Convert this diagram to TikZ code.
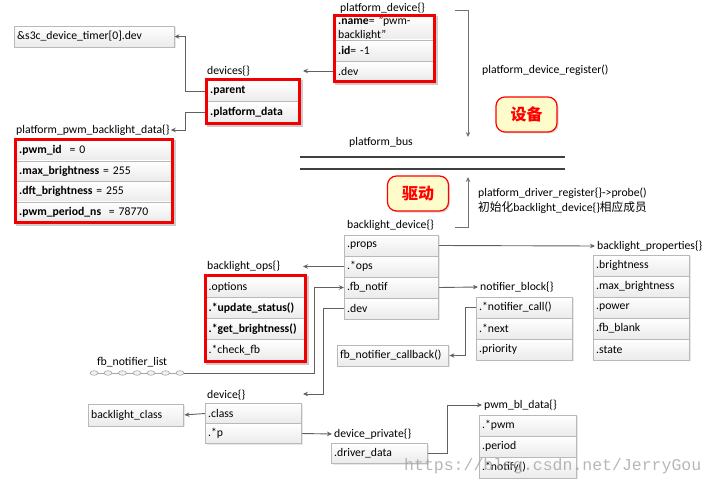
\documentclass[tikz,border=0pt]{standalone}
\usepackage{fontspec}
\setmainfont{Carlito}
\setmonofont{Liberation Mono}
\newfontfamily\cjk{Noto Sans CJK SC}
\usetikzlibrary{arrows.meta,shadows,fit,backgrounds,calc}
\begin{document}
\begin{tikzpicture}[x=1pt,y=-1pt,
  font=\fontsize{11.7}{14}\selectfont,
  row/.style={draw=gray!55, top color=white, bottom color=gray!16, minimum height=21pt,
    inner xsep=3pt, inner ysep=0pt, anchor=west, align=left,
    drop shadow={opacity=0.18, shadow xshift=1.3pt, shadow yshift=-1.3pt}},
  lbl/.style={anchor=west, inner sep=1pt},
  redframe/.style={draw=red!95!black, line width=3pt, inner sep=0.5pt},
  conn/.style={draw=black!62, line width=0.9pt, -{Stealth[length=5pt,width=4.5pt]}},
  plain/.style={draw=black!62, line width=0.9pt},
  tag/.style={rounded corners=9pt, draw=red, line width=1.2pt, fill=yellow!20,
    minimum width=61pt, minimum height=35pt, text=red,
    font=\cjk\bfseries\fontsize{16}{16}\selectfont,
    drop shadow={opacity=0.3, shadow xshift=1.5pt, shadow yshift=-1.5pt}},
  bus/.style={draw=black!75, line width=1.6pt}
]
\useasboundingbox (0,0) rectangle (716,487);

% ---------- s3c
\node[row, text width=154pt] (s3c) at (14,36.5) {\&s3c\_device\_timer[0].dev};

% ---------- devices{}
\node[lbl] (devlbl) at (206,71) {devices\{\}};
\node[row, text width=86pt] (dvparent) at (207,91) {\textbf{.parent}};
\node[row, text width=86pt] (dvpdata) at (207,112) {\textbf{.platform\_data}};
\node[redframe, fit=(dvparent)(dvpdata)] (devbox) {};

% ---------- platform_pwm_backlight_data{}
\node[lbl] (ppblbl) at (15,130) {platform\_pwm\_backlight\_data\{\}};
\node[row, text width=150pt, minimum height=20.5pt] (pp1) at (16,150.5) {\textbf{.pwm\_id}\ \ = 0};
\node[row, text width=150pt, minimum height=20.5pt] (pp2) at (16,171) {\textbf{.max\_brightness} = 255};
\node[row, text width=150pt, minimum height=20.5pt] (pp3) at (16,191.5) {\textbf{.dft\_brightness} = 255};
\node[row, text width=150pt, minimum height=20.5pt] (pp4) at (16,212) {\textbf{.pwm\_period\_ns}\ \ = 78770};
\node[redframe, fit=(pp1)(pp4)] (ppbox) {};

% ---------- platform_device{}
\node[lbl] (pdlbl) at (339,8) {platform\_device\{\}};
\node[row, text width=93pt, minimum height=24pt] (pdname) at (335,28) {\textbf{.name}= "pwm-\\backlight"};
\node[row, text width=93pt] (pdid) at (335,50.5) {\textbf{.id}= -1};
\node[row, text width=93pt, minimum height=19pt] (pddev) at (335,71) {.dev};
\node[redframe, fit=(pdname)(pddev)] (pdbox) {};

% ---------- register brackets and bus
\coordinate (regtop) at (455,10);
\coordinate (regbot) at (468,137);
\coordinate (drvbot) at (455,227);
\coordinate (drvtop) at (468,177);
\node[lbl] (reglbl) at (481,70) {platform\_device\_register()};
\node[tag] (tagdev) at (526.5,114.5) {设备};
\node[lbl] (buslbl) at (348,142) {platform\_bus};
\coordinate (busA1) at (300,157);
\coordinate (busA2) at (565,157);
\coordinate (busB1) at (300,169);
\coordinate (busB2) at (565,169);
\node[tag] (tagdrv) at (418,193.5) {驱动};
\node[lbl] (drvlbl1) at (477,193) {platform\_driver\_register\{\}->probe()};
\node[lbl] (drvlbl2) at (477,208) {{\cjk 初始化}backlight\_device\{\}{\cjk 相应成员}};

% ---------- backlight_device{}
\node[lbl] (bdlbl) at (346,225) {backlight\_device\{\}};
\node[row, text width=88pt] (bdprops) at (344,245.5) {.props};
\node[row, text width=88pt] (bdops) at (344,266.5) {.*ops};
\node[row, text width=88pt] (bdfb) at (344,287.5) {.fb\_notif};
\node[row, text width=88pt] (bddev) at (344,308.5) {.dev};

% ---------- backlight_ops{}
\node[lbl] (opslbl) at (206,266) {backlight\_ops\{\}};
\node[row, text width=93pt] (op1) at (205.5,287) {.options};
\node[row, text width=93pt] (op2) at (205.5,308) {\textbf{.*update\_status()}};
\node[row, text width=93pt] (op3) at (205.5,329) {\textbf{.*get\_brightness()}};
\node[row, text width=93pt] (op4) at (205.5,350) {.*check\_fb};
\node[redframe, fit=(op1)(op4)] (opsbox) {};

% ---------- backlight_properties{}
\node[lbl] (bplbl) at (596,246) {backlight\_properties\{\}};
\node[row, text width=90pt] (bp1) at (593,265.5) {.brightness};
\node[row, text width=90pt] (bp2) at (593,286.5) {.max\_brightness};
\node[row, text width=90pt] (bp3) at (593,307.5) {.power};
\node[row, text width=90pt] (bp4) at (593,328.5) {.fb\_blank};
\node[row, text width=90pt] (bp5) at (593,349.5) {.state};

% ---------- notifier_block{}
\node[lbl] (nblbl) at (479,287) {notifier\_block\{\}};
\node[row, text width=90pt] (nbcall) at (476,307.5) {.*notifier\_call()};
\node[row, text width=90pt] (nbnext) at (476,328.5) {.*next};
\node[row, text width=90pt] (nbprio) at (476,349.5) {.priority};
\node[row, text width=105pt] (fbcb) at (337,355.5) {fb\_notifier\_callback()};

% ---------- fb_notifier_list
\node[lbl] (fblbl) at (96,362) {fb\_notifier\_list};
\coordinate (chainstart) at (90,373);
\coordinate (chainend) at (183,373);
\draw[plain, draw=gray!70, line width=0.7pt] (chainstart) -- (chainend);
\foreach \cx in {94,108,122.5,137,151,165.5,180}
  \draw[draw=gray!70, fill=gray!12, line width=0.6pt] (\cx,373) ellipse [x radius=4pt, y radius=2.3pt];

% ---------- device{}
\node[lbl] (dvlbl) at (206,395) {device\{\}};
\node[row, text width=90pt, minimum height=20pt] (dvclass) at (205,413.5) {.class};
\node[row, text width=90pt, minimum height=20pt] (dvp) at (205,433.5) {.*p};
\node[row, text width=89pt, minimum height=22pt] (blclass) at (88,415) {backlight\_class};

% ---------- device_private{}
\node[lbl] (dplbl) at (333,434) {device\_private\{\}};
\node[row, text width=90pt, minimum height=20pt] (dpdd) at (331,453.5) {.driver\_data};

% ---------- pwm_bl_data{}
\node[lbl] (pwmlbl) at (483,405) {pwm\_bl\_data\{\}};
\node[row, text width=91pt] (pw1) at (479,425.5) {.*pwm};
\node[row, text width=91pt] (pw2) at (479,446.5) {.period};
\node[row, text width=91pt] (pw3) at (479,467.5) {.*notify()};

% ---------- free ends
\coordinate (devin) at (303,71);
\coordinate (opsin) at (303,266.5);
\coordinate (devicein) at (303,394);

% ---------- connectors
\begin{scope}[on background layer]
\fill[black, opacity=0.2] ([shift={(2pt,-2pt)}]devbox.south west) rectangle ([shift={(2pt,-2pt)}]devbox.north east);
\fill[black, opacity=0.2] ([shift={(2pt,-2pt)}]ppbox.south west) rectangle ([shift={(2pt,-2pt)}]ppbox.north east);
\fill[black, opacity=0.2] ([shift={(2pt,-2pt)}]pdbox.south west) rectangle ([shift={(2pt,-2pt)}]pdbox.north east);
\fill[black, opacity=0.2] ([shift={(2pt,-2pt)}]opsbox.south west) rectangle ([shift={(2pt,-2pt)}]opsbox.north east);
\draw[conn] (dvparent.west) -- ++(-22,0) |- (s3c.east);
\draw[conn] (dvpdata.west) -- ++(-22,0) |- (ppblbl.east);
\draw[conn] (pddev.west) -- (devin);
\draw[conn] (bdops.west) -- (opsin);
\draw[conn] (chainend) -| ([xshift=-30pt]bdfb.west) -- (bdfb.west);
\draw[conn] (bddev.west) -- ++(-21,0) |- (devicein);
\draw[conn, shorten >=1pt] (bdprops.east) -- (bplbl.west);
\draw[conn, shorten >=1pt] (bdfb.east) -- (nblbl.west);
\draw[conn, shorten >=1pt] (nbcall.west) -- ++(-11,0) |- (fbcb.east);
\draw[conn, shorten >=1pt] (dvclass.west) -- (blclass.east);
\draw[conn, shorten >=1pt] (dvp.east) -- (dplbl.west);
\draw[conn, shorten >=1pt] (dpdd.east) -- ++(20,0) |- (pwmlbl.west);
\end{scope}
\draw[conn, draw=black!55] (regtop) -| (regbot);
\draw[conn, draw=black!55] (drvbot) -| (drvtop);
\draw[bus] (busA1) -- (busA2);
\draw[bus] (busB1) -- (busB2);

% ---------- watermark
\node[anchor=west, inner sep=0pt, text=gray!75, opacity=0.75,
  font=\ttfamily\fontsize{16.5}{16.5}\selectfont] (wm) at (404,466) {https://blog.csdn.net/JerryGou};
\end{tikzpicture}
\end{document}
